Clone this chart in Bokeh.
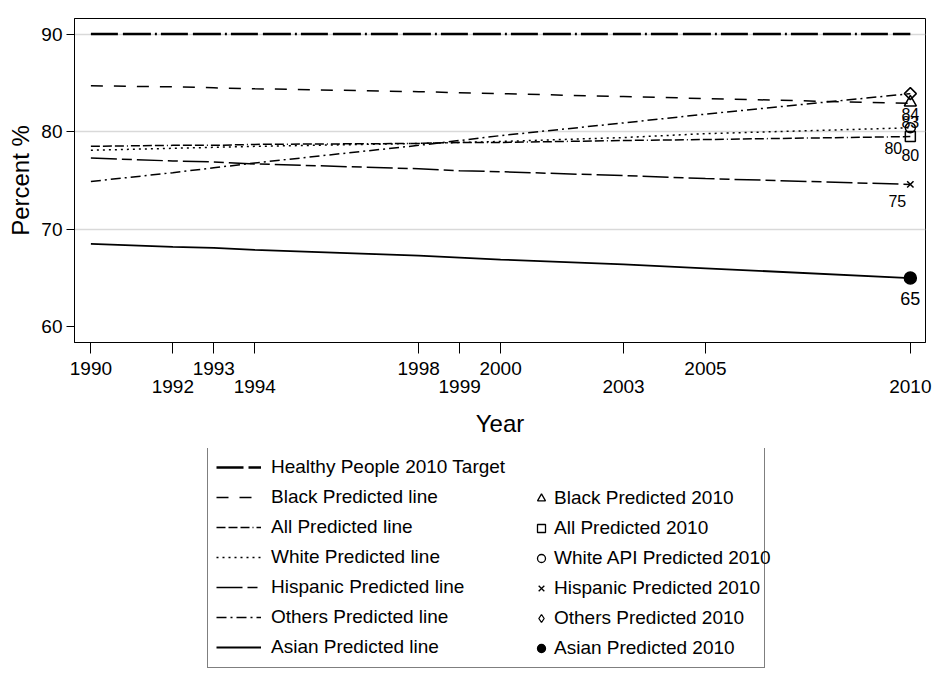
from bokeh.plotting import figure
from bokeh.models import Range1d, FixedTicker, LinearAxis, Legend, LegendItem, Grid
from bokeh.layouts import column
from bokeh.embed import file_html
from bokeh.resources import INLINE

# ---------------- data ----------------
years = [1990, 1992, 1993, 1994, 1998, 1999, 2000, 2003, 2005, 2010]
target = [90, 90, 90, 90, 90, 90, 90, 90, 90, 90]
black = [84.7, 84.6, 84.5, 84.4, 84.1, 84.0, 83.9, 83.6, 83.4, 82.9]
all_ = [78.5, 78.6, 78.6, 78.7, 78.8, 78.9, 78.9, 79.1, 79.2, 79.5]
white = [78.1, 78.3, 78.4, 78.5, 78.8, 78.9, 79.0, 79.4, 79.8, 80.4]
hispanic = [77.3, 77.0, 76.9, 76.7, 76.2, 76.0, 75.9, 75.5, 75.2, 74.6]
others = [74.9, 75.8, 76.3, 76.8, 78.6, 79.1, 79.6, 80.9, 81.8, 83.9]
asian = [68.5, 68.2, 68.1, 67.9, 67.3, 67.1, 66.9, 66.4, 66.0, 65.0]

pred_year = [2010]
pred_black = [83.0]
pred_all = [79.5]
pred_white = [80.4]
pred_hispanic = [74.6]
pred_others = [83.9]
pred_asian = [65.0]
lab_black = ["83"]
lab_all = ["80"]
lab_white = ["80"]
lab_hispanic = ["75"]
lab_others = ["84"]
lab_asian = ["65"]

y_ticks = [60, 70, 80, 90]
grid_ticks = [70, 80, 90]
x_ticks = [1990, 1992, 1993, 1994, 1998, 1999, 2000, 2003, 2005, 2010]
x_row1 = [1990, 1993, 1998, 2000, 2005]
x_row2 = [1992, 1994, 1999, 2003, 2010]

FONT = "Liberation Sans"

# ---------------- main plot ----------------
p = figure(width=935, height=448,
           x_range=Range1d(1989.6, 2010.37), y_range=Range1d(58.4, 91.6),
           output_backend="svg", toolbar_location=None,
           x_axis_location=None, y_axis_location=None,
           min_border_left=74, min_border_right=10, min_border_top=18, min_border_bottom=106)
p.grid.visible = False
p.outline_line_color = "black"
p.outline_line_width = 1
p.background_fill_color = "white"
p.border_fill_color = "white"

p.add_layout(Grid(dimension=1, ticker=FixedTicker(ticks=grid_ticks),
                  grid_line_color="#d9d9d9", grid_line_width=1.5))

yax = LinearAxis(ticker=FixedTicker(ticks=y_ticks), axis_label="Percent %",
                 major_tick_out=8, major_tick_in=0, minor_tick_out=0, minor_tick_in=0,
                 major_label_standoff=4, axis_label_standoff=4,
                 axis_line_color="black", major_tick_line_color="black",
                 major_label_text_font=FONT, major_label_text_font_size="19px",
                 major_label_text_color="black",
                 axis_label_text_font=FONT, axis_label_text_font_size="24px",
                 axis_label_text_font_style="normal", axis_label_text_color="black")
p.add_layout(yax, "left")

xax1 = LinearAxis(ticker=FixedTicker(ticks=x_ticks),
                  major_label_overrides={y: "" for y in x_row2},
                  major_tick_out=11, major_tick_in=0, minor_tick_out=0, minor_tick_in=0,
                  major_label_standoff=8,
                  axis_line_color="black", major_tick_line_color="black",
                  major_label_text_font=FONT, major_label_text_font_size="19px",
                  major_label_text_color="black")
p.add_layout(xax1, "below")

xax2 = LinearAxis(ticker=FixedTicker(ticks=x_ticks), axis_label="Year",
                  major_label_overrides={y: "" for y in x_row1},
                  major_tick_out=0, major_tick_in=0, minor_tick_out=0, minor_tick_in=0,
                  major_label_standoff=2, axis_label_standoff=14,
                  axis_line_color=None, major_tick_line_color=None,
                  major_label_text_font=FONT, major_label_text_font_size="19px",
                  major_label_text_color="black",
                  axis_label_text_font=FONT, axis_label_text_font_size="24px",
                  axis_label_text_font_style="normal", axis_label_text_color="black")
p.add_layout(xax2, "below")

line_specs = [
    ("Healthy People 2010 Target", target, 2.5, "27 5 28 4 2 4"),
    ("Black Predicted line", black, 1.5, "12 11"),
    ("All Predicted line", all_, 1.5, "9 3 9 3 9 3 1 3"),
    ("White Predicted line", white, 1.5, "2 4"),
    ("Hispanic Predicted line", hispanic, 1.5, "26 5 10 5"),
    ("Others Predicted line", others, 1.5, "10 4 2 4"),
    ("Asian Predicted line", asian, 1.8, "solid"),
]
for name, vals, lw, dash in line_specs:
    p.line(years, vals, line_color="black", line_width=lw, line_dash=dash)

# (label, values, marker in plot, size, angle, marker in legend, filled)
marker_specs = [
    ("Black Predicted 2010", pred_black, "triangle", 12, 0.0, "triangle", False),
    ("All Predicted 2010", pred_all, "square", 10, 0.0, "square", False),
    ("White API Predicted 2010", pred_white, "circle", 10, 0.0, "circle", False),
    ("Hispanic Predicted 2010", pred_hispanic, "x", 9, 0.0, "x", False),
    ("Others Predicted 2010", pred_others, "square", 8.5, 0.785398, "diamond", False),
    ("Asian Predicted 2010", pred_asian, "circle", 12, 0.0, "circle", True),
]
for name, vals, mk, sz, ang, lmk, filled in marker_specs:
    p.scatter(pred_year, vals, marker=mk, size=sz, angle=ang, line_color="black", line_width=1.5,
              fill_color="black" if filled else "white", fill_alpha=1 if filled else 0)

label_specs = [
    (pred_others, lab_others, 0, 20, "16px"),
    (pred_black, lab_black, 0, 20, "16px"),
    (pred_white, lab_white, -17, 20, "16px"),
    (pred_all, lab_all, 0, 18, "16px"),
    (pred_hispanic, lab_hispanic, -13, 17, "16px"),
    (pred_asian, lab_asian, 0, 20, "18px"),
]
for vals, lab, dx, dy, fs in label_specs:
    p.text(pred_year, vals, text=lab, x_offset=dx, y_offset=dy,
           text_align="center", text_baseline="middle",
           text_font={"value": FONT}, text_font_size=fs, text_color="black")

# ---------------- legend panel ----------------
p2 = figure(width=935, height=224, x_range=Range1d(0, 1), y_range=Range1d(0, 1),
            output_backend="svg", toolbar_location=None,
            x_axis_location=None, y_axis_location=None, min_border=0)
p2.grid.visible = False
p2.outline_line_color = None

items_a = []
for name, vals, lw, dash in line_specs:
    r = p2.line(years, vals, line_color="black", line_width=lw, line_dash=dash, visible=False)
    items_a.append(LegendItem(label=name, renderers=[r]))

items_b = []
for name, vals, mk, sz, ang, lmk, filled in marker_specs:
    r = p2.scatter(pred_year, vals, marker=lmk, size=sz, line_color="black",
                   line_width=1.3, fill_color="black" if filled else "white",
                   fill_alpha=1 if filled else 0, visible=False)
    items_b.append(LegendItem(label=name, renderers=[r]))

common = dict(orientation="vertical", glyph_height=24, label_height=24, spacing=6,
              padding=8, margin=0, label_text_font=FONT, label_text_font_size="19px",
              label_text_color="black")

legA = Legend(items=items_a, location=(133, 4), glyph_width=45, label_width=485,
              label_standoff=10, border_line_color="black", border_line_width=1,
              background_fill_color="white", background_fill_alpha=1, **common)
legB = Legend(items=items_b, location=(457, 12), glyph_width=20, label_width=20,
              label_standoff=3, border_line_color=None, background_fill_alpha=0, **common)
p2.add_layout(legA)
p2.add_layout(legB)

layout = column(p, p2, spacing=0)
open("out.html", "w").write(file_html(layout, INLINE))
